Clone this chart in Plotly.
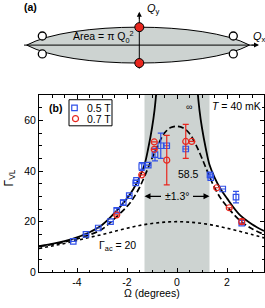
import plotly.graph_objects as go

# ---------------- data ----------------
sq_x = [-4.15, -3.64, -3.15, -2.66, -2.41, -2.15, -1.91, -1.65, -1.62, -1.41, -1.15,
        -0.88, -0.65, -0.41, 0.35, 1.32, 1.35, 1.83, 2.36, 2.59]
sq_y = [12.2, 15.0, 17.5, 20.0, 24.5, 27.5, 30.3, 35.3, 36.3, 41.8, 42.3,
        46.5, 50.0, 50.0, 48.7, 38.5, 37.4, 32.9, 29.7, 19.4]
sq_err = [0, 0, 0, 0, 0.8, 1.0, 0, 0, 0, 1.5, 0,
          2.5, 5.0, 0, 0, 0.8, 0, 0, 2.3, 0]

ci_x = [-2.41, -1.41, -0.91, -0.91, -0.41, 0.35, 0.59, 1.59, 2.09, 2.59]
ci_y = [22.7, 38.5, 51.5, 48.6, 44.3, 51.7, 51.7, 33.4, 25.5, 20.0]
ci_err = [0, 0, 0, 0, 9.8, 6.7, 0, 0, 0, 1.0]

solid_x = [-5.52, -5.0, -4.5, -4.0, -3.5, -3.0, -2.5, -2.0, -1.75, -1.5, -1.3, -1.15, -1.0, -0.9, -0.8, None,
           0.8, 0.9, 1.0, 1.15, 1.3, 1.5, 1.75, 2.0, 2.5, 3.0, 3.48]
solid_y = [10.3, 11.2, 12.3, 13.8, 15.8, 18.7, 23.4, 29.2, 32.8, 37.5, 42.5, 49.0, 57.0, 64.0, 74.0, None,
           74.0, 64.0, 57.0, 49.0, 42.5, 37.5, 32.8, 29.2, 22.8, 19.0, 16.3]

dash_x = [-5.52, -5.0, -4.5, -4.0, -3.5, -3.0, -2.5, -2.0, -1.75, -1.5, -1.25, -1.0, -0.75, -0.5, -0.25, 0.0,
          0.25, 0.5, 0.75, 1.0, 1.25, 1.5, 1.75, 2.0, 2.5, 3.0, 3.48]
dash_y = [10.2, 11.0, 12.0, 13.2, 14.8, 17.0, 21.2, 26.0, 29.2, 33.5, 39.0, 45.0, 50.5, 55.0, 57.2, 57.7,
          57.0, 54.8, 50.5, 45.0, 39.0, 33.5, 29.2, 26.0, 20.6, 17.2, 15.0]

dot_x = [-5.52, -5.0, -4.5, -4.0, -3.5, -3.0, -2.5, -2.0, -1.5, -1.0, -0.5, 0.0,
         0.5, 1.0, 1.5, 2.0, 2.5, 3.0, 3.48]
dot_y = [9.4, 10.4, 11.4, 12.6, 13.8, 14.9, 16.2, 17.4, 18.5, 19.3, 19.8, 20.0,
         19.8, 19.3, 18.5, 17.4, 16.2, 14.9, 13.6]

band = [-1.3, 1.3]
x_ticks = [-4, -2, 0, 2]
y_ticks = [0, 20, 40, 60]
legend_names = ["0.5 T", "0.7 T"]

FONT = "Liberation Sans, Arial, sans-serif"
BLUE = "#3050e8"
RED = "#e8261e"
GREY = "#cdd3d1"

fig = go.Figure()

# ---------------- panel (b) ----------------
fig.add_trace(go.Scatter(x=dot_x, y=dot_y, mode="lines", line=dict(color="black", width=1.6, dash="dot"),
                         showlegend=False, line_shape="spline", hoverinfo="skip"))
fig.add_trace(go.Scatter(x=dash_x, y=dash_y, mode="lines", line=dict(color="black", width=1.7, dash="6px,3px"),
                         showlegend=False, line_shape="spline", hoverinfo="skip"))
fig.add_trace(go.Scatter(x=solid_x, y=solid_y, mode="lines", line=dict(color="black", width=1.8),
                         showlegend=False, line_shape="spline", connectgaps=False, hoverinfo="skip"))

fig.add_trace(go.Scatter(x=sq_x, y=sq_y, mode="markers", name=legend_names[0], showlegend=False,
                         marker=dict(symbol="square-open", size=5.5, color=BLUE, line=dict(width=1.2)),
                         error_y=dict(type="data", array=sq_err, color=BLUE, thickness=1.2, width=3)))
fig.add_trace(go.Scatter(x=ci_x, y=ci_y, mode="markers", name=legend_names[1], showlegend=False,
                         marker=dict(symbol="circle-open", size=6, color=RED, line=dict(width=1.2)),
                         error_y=dict(type="data", array=ci_err, color=RED, thickness=1.2, width=3)))

fig.add_shape(type="rect", xref="x", yref="y", x0=band[0], x1=band[1], y0=0, y1=70,
              fillcolor=GREY, line=dict(width=0), layer="below")

axis_common = dict(showgrid=False, zeroline=False, showline=True, linecolor="black", linewidth=1,
                   mirror="ticks", ticks="inside", ticklen=4, tickwidth=1, tickcolor="black",
                   tickfont=dict(family=FONT, size=10.5, color="black"))
fig.update_layout(
    xaxis=dict(domain=[39 / 265, 264 / 265], range=[-5.52, 3.48], tickvals=x_ticks,
               ticktext=["-4", "-2", "0", "2"],
               minor=dict(dtick=0.5, tick0=0, ticks="inside", ticklen=2.5, tickcolor="black"),
               anchor="y", **axis_common),
    yaxis=dict(domain=[(308 - 277.7) / 308, (308 - 97) / 308], range=[0, 70], tickvals=y_ticks,
               minor=dict(dtick=5, tick0=0, ticks="inside", ticklen=2.5, tickcolor="black"),
               anchor="x", **axis_common),
    # overlay axes in pixel-like units covering the whole figure (schematic + legend)
    xaxis2=dict(domain=[0, 1], range=[0, 265], visible=False, anchor="y2", fixedrange=True),
    yaxis2=dict(domain=[0, 1], range=[308, 0], visible=False, anchor="x2", fixedrange=True),
)

ann = []
def txt(x, y, t, size=10.5, xanchor="center", ref=("x", "y"), **kw):
    ann.append(dict(x=x, y=y, xref=ref[0], yref=ref[1], text=t, showarrow=False, xanchor=xanchor,
                    yanchor="middle", font=dict(family=FONT, size=size, color="black"), **kw))

P = ("x2", "y2")
txt(-5.2, 65, "<b>(b)</b>", size=10.5, xanchor="left")
txt(3.42, 65.6, "<i>T</i> = 40 mK", size=10.5, xanchor="right")
txt(0.48, 65.5, "∞", size=9)
txt(0.44, 39, "58.5", size=10.5)
txt(0.0, 30, "±1.3°", size=10.5)
txt(-3.2, 10.3, "Γ<sub>ac</sub> = 20", size=10.5, xanchor="left")
for xa, xh in [(-0.58, band[0]), (0.58, band[1])]:
    ann.append(dict(x=xh, y=30, ax=xa, ay=30, xref="x", yref="y", axref="x", ayref="y", text="",
                    showarrow=True, arrowhead=2, arrowsize=1.0, arrowwidth=1.2, arrowcolor="black"))
# axis titles
txt(10, 182, "Γ<sub>VL</sub>", size=12, ref=P, textangle=-90)
txt(152, 299, "Ω (degrees)", size=10.5, ref=P)

# ---------------- manual legend ----------------
fig.add_shape(type="rect", xref="x2", yref="y2", x0=69, x1=112, y0=101.7, y1=128.3,
              fillcolor="white", line=dict(color="black", width=1), layer="below")
fig.add_trace(go.Scatter(x=[74.5], y=[110], xaxis="x2", yaxis="y2", mode="markers", showlegend=False,
                         marker=dict(symbol="square-open", size=5.5, color=BLUE, line=dict(width=1.2)),
                         hoverinfo="skip"))
fig.add_trace(go.Scatter(x=[75.5], y=[121], xaxis="x2", yaxis="y2", mode="markers", showlegend=False,
                         marker=dict(symbol="circle-open", size=6, color=RED, line=dict(width=1.2)),
                         hoverinfo="skip"))
txt(85, 110, legend_names[0], size=10.5, xanchor="left", ref=P)
txt(85, 121, legend_names[1], size=10.5, xanchor="left", ref=P)

# ---------------- panel (a): schematic ----------------
x0e, x1e, yc, h = 26.7, 249.5, 46.0, 18.3
d = h / 0.75
path = (f"M {x0e},{yc} C {x0e + 0.2 * (x1e - x0e)},{yc - d} {x1e - 0.2 * (x1e - x0e)},{yc - d} {x1e},{yc} "
        f"C {x1e - 0.2 * (x1e - x0e)},{yc + d} {x0e + 0.2 * (x1e - x0e)},{yc + d} {x0e},{yc} Z")
fig.add_shape(type="path", path=path, xref="x2", yref="y2", fillcolor=GREY,
              line=dict(color="black", width=1), layer="below")
fig.add_shape(type="line", xref="x2", yref="y2", x0=24, x1=254, y0=yc, y1=yc,
              line=dict(color="black", width=1), layer="below")
fig.add_shape(type="line", xref="x2", yref="y2", x0=139.3, x1=139.3, y0=70, y1=17,
              line=dict(color="black", width=1), layer="below")
ann.append(dict(x=259, y=yc, ax=250, ay=yc, xref="x2", yref="y2", axref="x2", ayref="y2", text="",
                showarrow=True, arrowhead=2, arrowsize=1, arrowwidth=1, arrowcolor="black"))
ann.append(dict(x=139.3, y=12, ax=139.3, ay=21, xref="x2", yref="y2", axref="x2", ayref="y2", text="",
                showarrow=True, arrowhead=2, arrowsize=1, arrowwidth=1, arrowcolor="black"))

open_x = [42.3, 42.3, 233.3, 233.3]
open_y = [36.7, 55.0, 36.7, 55.0]
red_x = [139.3, 139.3]
red_y = [27.7, 64.3]
fig.add_trace(go.Scatter(x=open_x, y=open_y, xaxis="x2", yaxis="y2", mode="markers", showlegend=False,
                         marker=dict(symbol="circle", size=8, color="white", line=dict(color="black", width=1.3)),
                         hoverinfo="skip"))
fig.add_trace(go.Scatter(x=red_x, y=red_y, xaxis="x2", yaxis="y2", mode="markers", showlegend=False,
                         marker=dict(symbol="circle", size=9, color=RED, line=dict(color="black", width=1)),
                         hoverinfo="skip"))
txt(30, 7, "<b>(a)</b>", size=10.5, ref=P)
txt(145, 9, "<i>Q</i><sub>y</sub>", size=11, xanchor="left", ref=P)
txt(251, 38, "<i>Q</i><sub>x</sub>", size=11, xanchor="left", ref=P)
txt(103, 38, "Area = π Q<sub>0</sub><sup>2</sup>", size=10.5, ref=P)

fig.update_layout(
    annotations=ann,
    width=265, height=308, margin=dict(l=0, r=0, t=0, b=0),
    plot_bgcolor="rgba(0,0,0,0)", paper_bgcolor="white",
    font=dict(family=FONT, size=10.5, color="black"),
    showlegend=False,
)

fig.write_html("out.html", config={"displayModeBar": False},
               post_script="document.body.style.margin='0';document.body.style.overflow='hidden';")
